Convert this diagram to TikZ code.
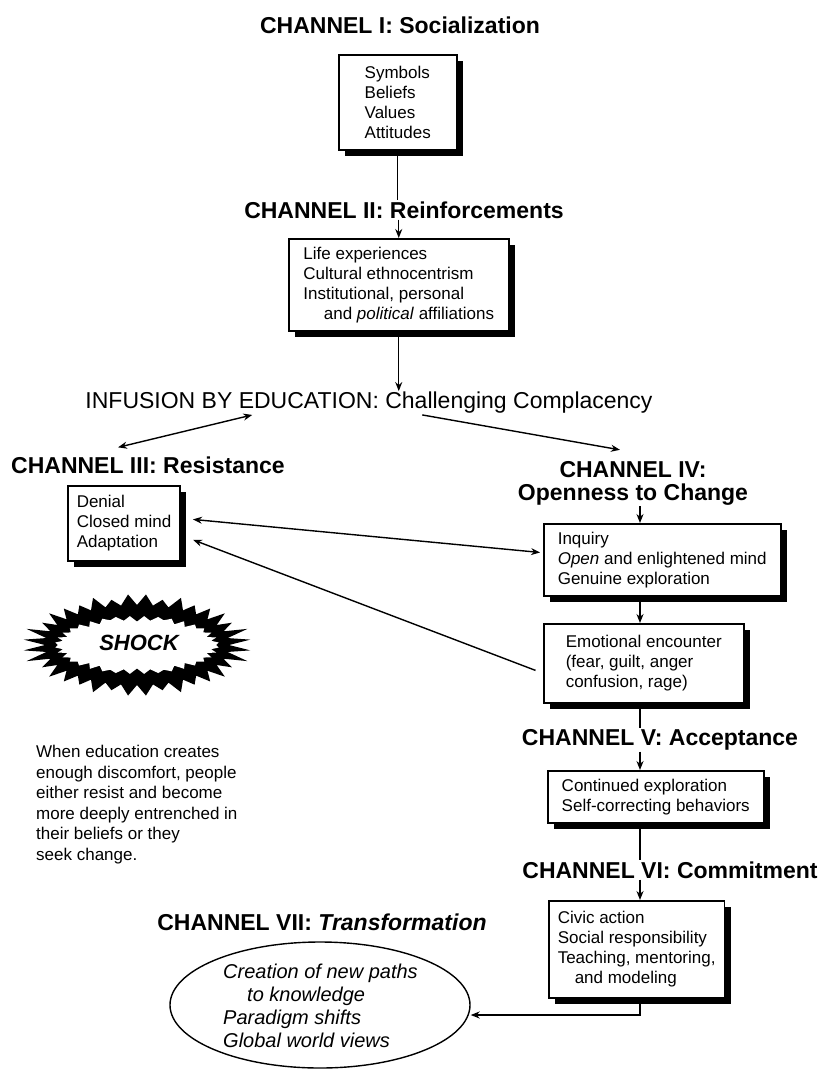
\documentclass[tikz,border=0pt]{standalone}
\usepackage{fontspec}
\setmainfont{Liberation Sans}
\usetikzlibrary{arrows.meta}
\usetikzlibrary{shapes.geometric}
\usetikzlibrary{shadows}

\tikzset{
  title/.style={font=\fontsize{23}{23}\selectfont\bfseries, align=center, inner sep=1pt},
  itembox/.style={draw, line width=1.5pt, fill=white, align=left, anchor=north west,
    font=\fontsize{17}{20}\selectfont, inner xsep=9pt, inner ysep=5pt,
    drop shadow={shadow xshift=6pt, shadow yshift=-6pt, fill=black, opacity=1}},
  link/.style={line width=1.4pt},
}

\begin{document}
\begin{tikzpicture}[x=1pt, y=-1pt, >={Stealth[length=9pt,width=7pt]},
    declare function={spk(\t)=mod(round(\t/5),2)*(5+7*abs(sin(7*\t))+13*abs(cos(\t))^6);
                      dnt(\t)=mod(round(\t/5)+1,2)*(3+5*abs(sin(13*\t)));}]
    \useasboundingbox (0,0) rectangle (820,1069);
    \coordinate (spine) at (640,0);

    % Channel I and II
    \node[title] (t1) at (400,25) {CHANNEL I: Socialization};
    \node[itembox, minimum width=118pt, minimum height=95pt] (b1) at (338,54) {Symbols\\Beliefs\\Values\\Attitudes};
    \node[title] (t2) at (404,210) {CHANNEL II: Reinforcements};
    \node[itembox, minimum width=220pt, minimum height=92pt] (b2) at (288,238)
        {Life experiences\\Cultural ethnocentrism\\Institutional, personal\\\hspace*{1.2em}and \textit{political} affiliations};
    \node[font=\fontsize{23}{23}\selectfont, inner sep=1pt] (infusion) at (369,403) {INFUSION BY EDUCATION: Challenging Complacency};

    % Channel III and IV
    \node[title, anchor=west] (t3) at (10,465) {CHANNEL III: Resistance};
    \node[itembox, minimum width=108pt, minimum height=75pt] (b3) at (67,485) {Denial\\Closed mind\\Adaptation};
    \node[title] (t4) at (633,483) {CHANNEL IV:\\Openness to Change};
    \node[itembox, minimum width=237pt, minimum height=72pt] (b4) at (543,523)
        {Inquiry\\\textit{Open} and enlightened mind\\Genuine exploration};
    \node[itembox, minimum width=200pt, minimum height=79pt] (b5) at (543,623)
        {Emotional encounter\\(fear, guilt, anger\\confusion, rage)};

    % Shock
    \fill[black] plot[domain=0:360, samples=73, variable=\t]
        ({137+(92+spk(\t))*cos(\t)}, {645+(40+spk(\t))*sin(\t)}) -- cycle;
    \fill[white] plot[domain=0:360, samples=73, variable=\t]
        ({137+(82-dnt(\t))*cos(\t)}, {645+(29-0.7*dnt(\t))*sin(\t)}) -- cycle;
    \node[font=\fontsize{22}{24}\selectfont\bfseries\itshape] (shock) at (139,643) {SHOCK};
    \node[anchor=north west, align=left, font=\fontsize{17}{20.6}\selectfont, inner sep=0pt] (note) at (36,745)
        {When education creates\\enough discomfort, people\\either resist and become\\more deeply entrenched in\\their beliefs or they\\seek change.};

    % Channel V and VI
    \node[title] (t5) at (660,740) {CHANNEL V: Acceptance};
    \node[itembox, minimum width=216pt, minimum height=52pt] (b6) at (547,770)
        {Continued exploration\\Self-correcting behaviors};
    \node[title] (t6) at (670,870) {CHANNEL VI: Commitment};
    \node[itembox, minimum height=97pt] (b7) at (548,900)
        {Civic action\\Social responsibility\\Teaching, mentoring,\\\hspace*{1em}and modeling};

    % Channel VII
    \node[title] (t7) at (322,922) {CHANNEL VII: \textit{Transformation}};
    \node[draw, ellipse, line width=1.4pt, minimum width=300pt, minimum height=126pt] (e7) at (320,1005) {};
    \node[anchor=west, align=left, font=\fontsize{20}{23}\selectfont\itshape, inner sep=0pt] (e7txt) at (223,1006)
        {Creation of new paths\\\hspace*{1.2em}to knowledge\\Paradigm shifts\\Global world views};

    % Connectors
    \draw[link] (b1.south) -- (b1.south |- t2.north);
    \draw[link, ->] (b2.north |- t2.south) -- (b2.north);
    \draw[link, ->] (b2.south) -- (b2.south |- infusion.north);
    \draw[link, <->] ([xshift=168pt]infusion.south west) -- ([xshift=108pt,yshift=8pt]t3.north west);
    \draw[link, ->] ([xshift=338pt]infusion.south west) -- ([xshift=-13pt,yshift=10pt]t4.north);
    \draw[link, ->] (t4.south -| spine) -- (b4.north -| spine);
    \draw[link, <->, shorten <=12pt, shorten >=3pt] ([yshift=5pt]b3.east) -- ([yshift=7pt]b4.west);
    \draw[link, ->, shorten <=8pt, shorten >=13pt] ([yshift=-10pt]b5.west) -- ([yshift=-12pt]b3.east);
    \draw[link, ->] (b4.south -| spine) -- (b5.north -| spine);
    \draw[link] (b5.south -| spine) -- (t5.north -| spine);
    \draw[link, ->] (t5.south -| spine) -- (b6.north -| spine);
    \draw[link] (b6.south -| spine) -- (t6.north -| spine);
    \draw[link, ->] (t6.south -| spine) -- (b7.north -| spine);
    \draw[link, ->] (b7.south -| spine) |- ([yshift=-10pt]e7.east);
\end{tikzpicture}
\end{document}
